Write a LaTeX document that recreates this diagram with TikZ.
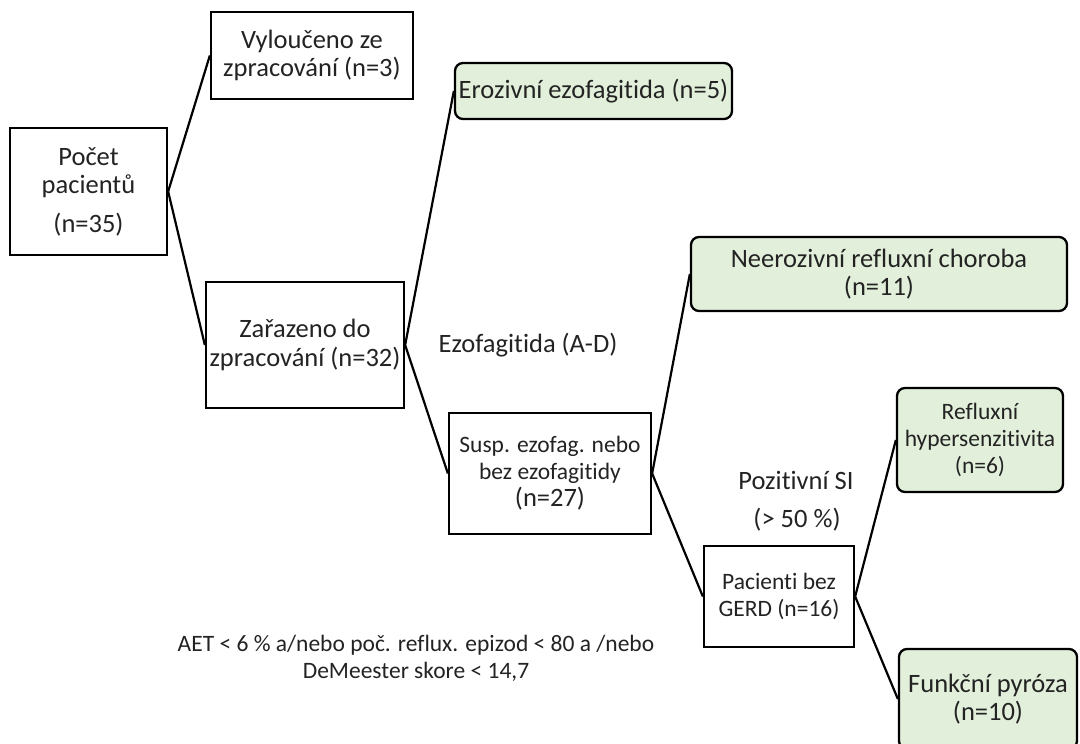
\documentclass[tikz,border=0pt]{standalone}
\usepackage{fontspec}
\setmainfont{Carlito}[Ligatures={NoCommon,TeX}]
\definecolor{txt}{RGB}{35,35,35}
\definecolor{grn}{RGB}{226,239,218}
\newcommand{\bigf}{\fontsize{26.5}{28.5}\selectfont}
\newcommand{\smf}{\fontsize{23.5}{27}\selectfont}
\begin{document}
\begin{tikzpicture}[x=1pt,y=-1pt,
  every node/.style={text=txt,align=center,inner sep=0pt},
  plain/.style={draw=black,line width=2.3pt,fill=white},
  leaf/.style={draw=black,line width=2.3pt,fill=grn,rounded corners=8pt},
  conn/.style={line width=2.2pt,black},
  lbl/.style={font=\bigf}]
\clip (0,0) rectangle (1080,744);
\fill[white] (0,0) rectangle (1080,744);
% nodes
\node[plain,font=\bigf,minimum width=157pt,minimum height=127pt] (pocet) at (88.5,191.5) {Počet\\pacientů\\[10pt](n=35)};
\node[plain,font=\bigf,minimum width=202pt,minimum height=87pt] (excl) at (312,55.5) {Vyloučeno ze\\zpracování (n=3)};
\node[plain,font=\bigf,minimum width=198pt,minimum height=126pt] (incl) at (305,345) {Zařazeno do\\zpracování (n=32)};
\node[leaf,font=\bigf,minimum width=277pt,minimum height=56pt] (eroz) at (593.5,91) {Erozivní ezofagitida (n=5)};
\node[leaf,font=\bigf,minimum width=376pt,minimum height=74pt] (neer) at (879,274) {Neerozivní refluxní choroba\\(n=11)};
\node[plain,font=\smf,minimum width=202pt,minimum height=121pt] (susp) at (550,473.5) {Susp. ezofag. nebo\\bez ezofagitidy\\{\bigf (n=27)}};
\node[leaf,font=\smf,minimum width=166pt,minimum height=104pt] (refl) at (980,440) {Refluxní\\hypersenzitivita\\(n=6)};
\node[plain,font=\smf,minimum width=150pt,minimum height=101pt] (pac) at (779,596.5) {Pacienti bez\\GERD (n=16)};
\node[leaf,font=\bigf,minimum width=178pt,minimum height=100pt] (funk) at (988,699) {Funkční pyróza\\(n=10)};
% labels
\node[lbl] (ezo) at (528,345) {Ezofagitida (A-D)};
\node[lbl] (pos) at (796,480) {Pozitivní SI};
\node[lbl] (pct) at (797,520) {(> 50 \%)};
\node[font=\smf] (aet) at (416,658) {AET < 6 \% a/nebo poč. reflux. epizod < 80 a /nebo\\DeMeester skore < 14,7};
% connectors
\draw[conn] (pocet.east) -- (excl.west);
\draw[conn] (pocet.east) -- (incl.west);
\draw[conn] (incl.east) -- (eroz.west);
\draw[conn] (incl.east) -- (susp.west);
\draw[conn] (susp.east) -- (neer.west);
\draw[conn] (susp.east) -- (pac.west);
\draw[conn] (pac.east) -- (refl.west);
\draw[conn] (pac.east) -- (funk.west);
\end{tikzpicture}
\end{document}
